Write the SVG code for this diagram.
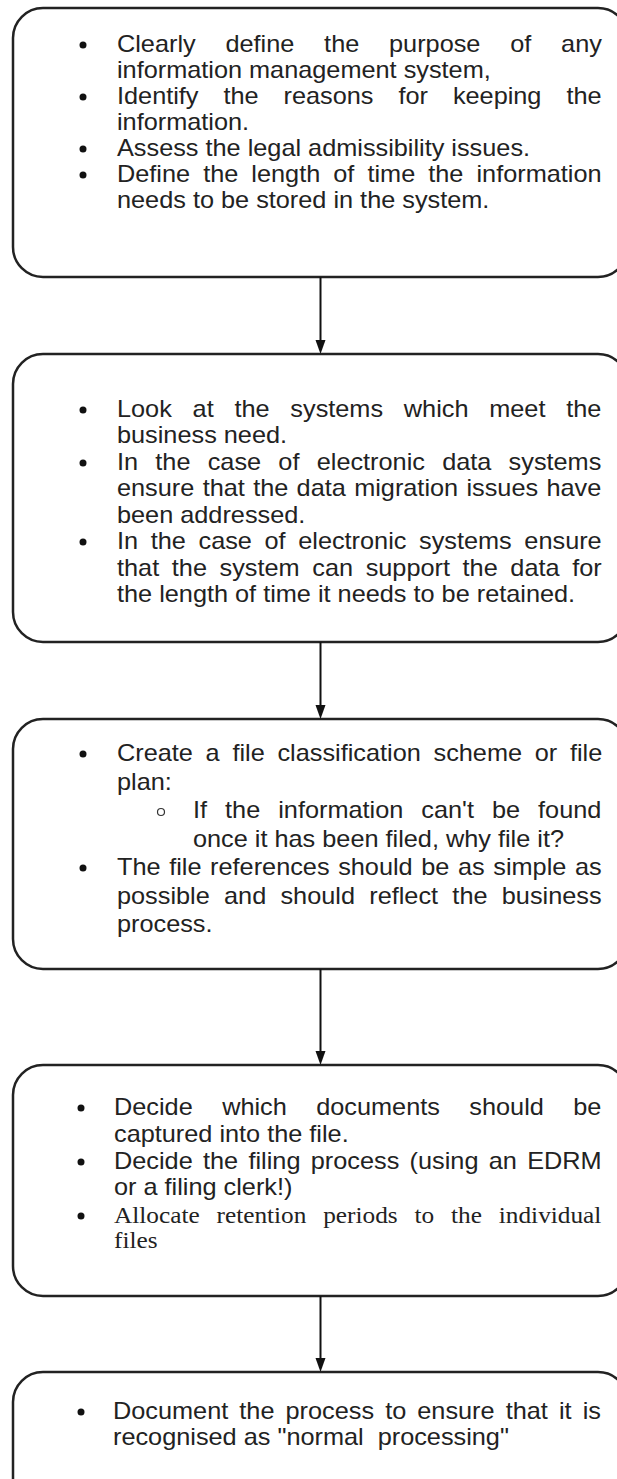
<svg xmlns="http://www.w3.org/2000/svg" width="617" height="1479" viewBox="0 0 617 1479">
<style>
.box{fill:#fff;stroke:#222;stroke-width:2.5}
.t{font-family:"Liberation Sans",Arial,sans-serif;font-size:23px;fill:#222;font-kerning:none}
.s{font-family:"Liberation Serif","Times New Roman",serif;font-size:23px;fill:#222;font-kerning:none}
.b{fill:#111}
.o{fill:none;stroke:#333;stroke-width:1.2}
.c{stroke:#111;stroke-width:2;fill:none}
.h{fill:#111}
</style>
<rect width="617" height="1479" fill="#fff"/>
<g id="n1">
<rect class="box" x="13" y="8" width="615" height="269" rx="30"/>
<circle class="b" cx="83" cy="45" r="3.5"/>
<text class="t" transform="translate(117,52) scale(1.1,1)" word-spacing="20.7">Clearly define the purpose of any</text>
<text class="t" transform="translate(117,78) scale(1.1,1)">information management system,</text>
<circle class="b" cx="83" cy="97" r="3.5"/>
<text class="t" transform="translate(117,104) scale(1.1,1)" word-spacing="16.3">Identify the reasons for keeping the</text>
<text class="t" transform="translate(117,130) scale(1.1,1)">information.</text>
<circle class="b" cx="83" cy="149" r="3.5"/>
<text class="t" transform="translate(117,156) scale(1.1,1)">Assess the legal admissibility issues.</text>
<circle class="b" cx="83" cy="175" r="3.5"/>
<text class="t" transform="translate(117,182) scale(1.1,1)" word-spacing="5.5">Define the length of time the information</text>
<text class="t" transform="translate(117,208) scale(1.1,1)">needs to be stored in the system.</text>
</g>
<g id="n2">
<rect class="box" x="13" y="354" width="615" height="288" rx="30"/>
<circle class="b" cx="83" cy="410" r="3.5"/>
<text class="t" transform="translate(117,417) scale(1.1,1)" word-spacing="12.5">Look at the systems which meet the</text>
<text class="t" transform="translate(117,443) scale(1.1,1)">business need.</text>
<circle class="b" cx="83" cy="463" r="3.5"/>
<text class="t" transform="translate(117,470) scale(1.1,1)" word-spacing="9.3">In the case of electronic data systems</text>
<text class="t" transform="translate(117,496) scale(1.1,1)" word-spacing="1.2">ensure that the data migration issues have</text>
<text class="t" transform="translate(117,523) scale(1.1,1)">been addressed.</text>
<circle class="b" cx="83" cy="542" r="3.5"/>
<text class="t" transform="translate(117,549) scale(1.1,1)" word-spacing="5.1">In the case of electronic systems ensure</text>
<text class="t" transform="translate(117,576) scale(1.1,1)" word-spacing="5.1">that the system can support the data for</text>
<text class="t" transform="translate(117,602) scale(1.1,1)">the length of time it needs to be retained.</text>
</g>
<g id="n3">
<rect class="box" x="13" y="719" width="615" height="250" rx="30"/>
<circle class="b" cx="83" cy="754" r="3.5"/>
<text class="t" transform="translate(117,761) scale(1.1,1)" word-spacing="5.2">Create a file classification scheme or file</text>
<text class="t" transform="translate(117,790) scale(1.1,1)">plan:</text>
<circle class="o" cx="161" cy="812" r="3.5"/>
<text class="t" transform="translate(193,818) scale(1.1,1)" word-spacing="10">If the information can't be found</text>
<text class="t" transform="translate(193,847) scale(1.1,1)">once it has been filed, why file it?</text>
<circle class="b" cx="83" cy="868" r="3.5"/>
<text class="t" transform="translate(117,875) scale(1.1,1)" word-spacing="1.45">The file references should be as simple as</text>
<text class="t" transform="translate(117,904) scale(1.1,1)" word-spacing="6.6">possible and should reflect the business</text>
<text class="t" transform="translate(117,932) scale(1.1,1)">process.</text>
</g>
<g id="n4">
<rect class="box" x="13" y="1065" width="615" height="231" rx="30"/>
<circle class="b" cx="81" cy="1108" r="3.5"/>
<text class="t" transform="translate(114,1115) scale(1.1,1)" word-spacing="20.4">Decide which documents should be</text>
<text class="t" transform="translate(114,1142) scale(1.1,1)">captured into the file.</text>
<circle class="b" cx="81" cy="1162" r="3.5"/>
<text class="t" transform="translate(114,1169) scale(1.1,1)" word-spacing="3">Decide the filing process (using an EDRM</text>
<text class="t" transform="translate(114,1195) scale(1.1,1)">or a filing clerk!)</text>
<circle class="b" cx="81" cy="1216" r="3.5"/>
<text class="s" transform="translate(114,1223) scale(1.1,1)" word-spacing="9.6">Allocate retention periods to the individual</text>
<text class="s" transform="translate(114,1248) scale(1.1,1)">files</text>
</g>
<g id="n5">
<rect class="box" x="13" y="1372" width="615" height="160" rx="30"/>
<circle class="b" cx="81" cy="1412" r="3.5"/>
<text class="t" transform="translate(113,1419) scale(1.1,1)" word-spacing="3.7">Document the process to ensure that it is</text>
<text class="t" transform="translate(113,1445) scale(1.1,1)" style="white-space:pre">recognised as "normal  processing"</text>
</g>
<g id="connectors">
<line class="c" x1="320.5" y1="277" x2="320.5" y2="342"/>
<polygon class="h" points="315.5,340 325.5,340 320.5,354"/>
<line class="c" x1="320.5" y1="642" x2="320.5" y2="707"/>
<polygon class="h" points="315.5,705 325.5,705 320.5,719"/>
<line class="c" x1="320.5" y1="969" x2="320.5" y2="1053"/>
<polygon class="h" points="315.5,1051 325.5,1051 320.5,1065"/>
<line class="c" x1="320.5" y1="1296" x2="320.5" y2="1360"/>
<polygon class="h" points="315.5,1358 325.5,1358 320.5,1372"/>
</g>
</svg>
